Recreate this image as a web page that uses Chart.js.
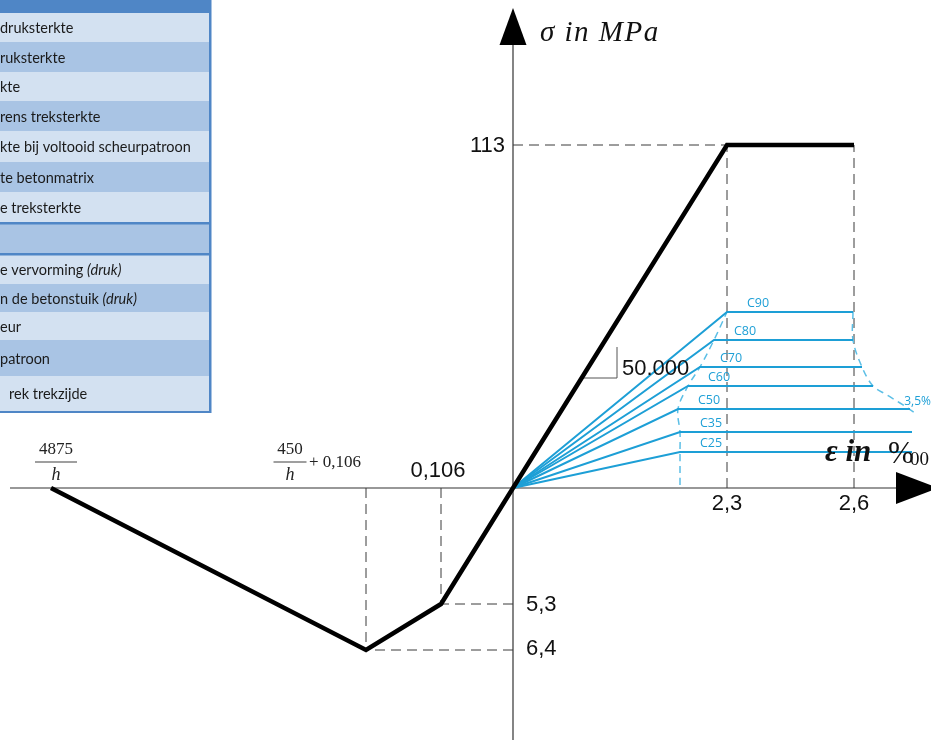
<!DOCTYPE html>
<html><head><meta charset="utf-8">
<script src="https://cdn.jsdelivr.net/npm/chart.js@4/dist/chart.umd.min.js"></script>
<style>html,body{margin:0;padding:0;background:#fff;overflow:hidden}#wrap{width:931px;height:740px;position:relative}</style>
</head><body><div id="wrap"><canvas id="c" width="931" height="740"></canvas></div>
<script>
// Schematic diagram (axes of the reference are not to scale): values in diagram units
const mainStrain = [-4.62, -1.47, -0.72, 0, 2.14, 3.41];
const mainStress = [0, -1.62, -1.16, 0, 3.43, 3.43];

const classes = ['C25','C35','C50','C60','C70','C80','C90'];
const classKinkStrain = [1.67, 1.67, 1.65, 1.75, 1.87, 2.01, 2.14];
const classStress = [0.36, 0.56, 0.79, 1.02, 1.21, 1.48, 1.76];
const classEndStrain = [3.99, 3.99, 3.97, 3.60, 3.49, 3.40, 3.40];

const leftEnvStrain = [1.67, 1.67, 1.67, 1.65, 1.75, 1.87, 2.01, 2.14];
const leftEnvStress = [0.03, 0.36, 0.56, 0.79, 1.02, 1.21, 1.48, 1.76];
const rightEnvStrain = [3.40, 3.40, 3.49, 3.60, 3.74, 3.87, 4.02];
const rightEnvStress = [1.76, 1.48, 1.21, 1.02, 0.93, 0.85, 0.75];
const rightEnvLabel = '3,5%';

const slopeStrain = [0.70, 1.04, 1.04];
const slopeStress = [1.10, 1.10, 1.41];
const slopeLabel = '50.000';

const yTickLabels = ['113', '5,3', '6,4'];
const yTickValues = [3.43, -1.16, -1.62];
const xTickLabels = ['2,3', '2,6'];
const xTickValues = [2.14, 3.41];
const xNegLabel = '0,106';
const xNegValue = -0.72;

const tableRows = [
  ['light', 'druksterkte', ''],
  ['mid', 'ruksterkte', ''],
  ['light', 'kte', ''],
  ['mid', 'rens treksterkte', ''],
  ['light', 'kte bij voltooid scheurpatroon', ''],
  ['mid', 'te betonmatrix', ''],
  ['light', 'e treksterkte', ''],
  ['mid', '', ''],
  ['light', 'e vervorming ', '(druk)'],
  ['mid', 'n de betonstuik ', '(druk)'],
  ['light', 'eur', ''],
  ['mid', 'patroon', ''],
  ['light', ' rek trekzijde', '']
];
const rowEdges = [13, 42, 72, 101, 131, 162, 192, 222, 255, 284, 312, 340, 376, 411];

const BLUE = '#1d9fd6';
const BLUE_LIGHT = '#5cbfe6';
const GUIDE = '#3a3a3a';

function pts(xs, ys) { return xs.map((x, i) => ({x: x, y: ys[i]})); }

const datasets = [];
datasets.push({data: pts(mainStrain, mainStress), showLine: true, borderColor: '#000', borderWidth: 4.5,
  borderJoinStyle: 'miter', pointRadius: 0, fill: false, order: 0});
const guideIdx = [1, 2, 4, 5];
guideIdx.forEach(i => {
  const x = mainStrain[i], y = mainStress[i];
  datasets.push({data: [{x: x, y: 0}, {x: x, y: y}], showLine: true, borderColor: GUIDE, borderWidth: 1,
    borderDash: [10, 6], pointRadius: 0, order: 5});
  if (i !== 5) datasets.push({data: [{x: 0, y: y}, {x: x, y: y}], showLine: true, borderColor: GUIDE, borderWidth: 1,
    borderDash: [10, 6], pointRadius: 0, order: 5});
});
classes.forEach((c, i) => {
  datasets.push({data: [{x: 0, y: 0}, {x: classKinkStrain[i], y: classStress[i]}, {x: classEndStrain[i], y: classStress[i]}],
    showLine: true, borderColor: BLUE, borderWidth: 2, pointRadius: 0, order: 3});
});
datasets.push({data: pts(leftEnvStrain, leftEnvStress), showLine: true, borderColor: BLUE_LIGHT, borderWidth: 1.5,
  borderDash: [7, 5], tension: 0.35, pointRadius: 0, order: 4});
datasets.push({data: pts(rightEnvStrain, rightEnvStress), showLine: true, borderColor: BLUE_LIGHT, borderWidth: 1.5,
  borderDash: [7, 5], tension: 0.35, pointRadius: 0, order: 4});
datasets.push({data: pts(slopeStrain, slopeStress), showLine: true, borderColor: '#555', borderWidth: 1,
  pointRadius: 0, order: 6});

function frac(ctx, num, cx, yBar, w) {
  ctx.font = '17px "Liberation Serif", serif';
  ctx.textAlign = 'center'; ctx.textBaseline = 'alphabetic'; ctx.fillStyle = '#222';
  ctx.fillText(num, cx, yBar - 8);
  ctx.fillStyle = '#777'; ctx.fillRect(cx - w / 2, yBar - 0.7, w, 1.4);
  ctx.fillStyle = '#222'; ctx.font = 'italic 18px "Liberation Serif", serif';
  ctx.fillText('h', cx, yBar + 18);
}

const diagram = {
  id: 'diagram',
  beforeDatasetsDraw(chart) {
    const ctx = chart.ctx, xs = chart.scales.x, ys = chart.scales.y;
    const x0 = xs.getPixelForValue(0), y0 = ys.getPixelForValue(0);
    ctx.save();
    ctx.strokeStyle = '#333'; ctx.lineWidth = 1.2;
    ctx.beginPath(); ctx.moveTo(10, y0); ctx.lineTo(897, y0); ctx.stroke();
    ctx.beginPath(); ctx.moveTo(x0, 740); ctx.lineTo(x0, 44); ctx.stroke();
    ctx.restore();
  },
  afterDatasetsDraw(chart) {
    const ctx = chart.ctx, xs = chart.scales.x, ys = chart.scales.y;
    const X = v => xs.getPixelForValue(v), Y = v => ys.getPixelForValue(v);
    const x0 = X(0), y0 = Y(0);
    ctx.save();
    ctx.fillStyle = '#000';
    ctx.beginPath(); ctx.moveTo(x0, 8); ctx.lineTo(x0 - 13.5, 45); ctx.lineTo(x0 + 13.5, 45); ctx.closePath(); ctx.fill();
    ctx.beginPath(); ctx.moveTo(896, y0 - 16); ctx.lineTo(938, y0); ctx.lineTo(896, y0 + 16); ctx.closePath(); ctx.fill();

    ctx.fillStyle = '#111'; ctx.textBaseline = 'alphabetic'; ctx.textAlign = 'left';
    ctx.font = 'italic 29px "Liberation Serif", serif';
    ctx.letterSpacing = '1.5px';
    ctx.fillText('σ in MPa', 540, 41);
    ctx.letterSpacing = '0px';
    ctx.font = 'bold italic 31px "Liberation Serif", serif';
    ctx.fillText('ε in', 825, 461);
    ctx.font = '31px "Liberation Serif", serif';
    ctx.fillText('%', 888, 463);
    ctx.font = '19px "Liberation Serif", serif';
    ctx.fillText('00', 910, 465);

    ctx.font = '22px "Liberation Sans", Arial, sans-serif';
    ctx.textBaseline = 'middle';
    ctx.textAlign = 'right';
    ctx.fillText(yTickLabels[0], x0 - 8, Y(yTickValues[0]) + 1);
    ctx.textAlign = 'left';
    ctx.fillText(yTickLabels[1], x0 + 13, Y(yTickValues[1]) + 1);
    ctx.fillText(yTickLabels[2], x0 + 13, Y(yTickValues[2]) - 1);
    ctx.textAlign = 'center';
    xTickLabels.forEach((t, i) => ctx.fillText(t, X(xTickValues[i]), y0 + 16));
    ctx.fillText(xNegLabel, X(xNegValue) - 3, y0 - 17);
    ctx.textAlign = 'left';
    ctx.fillText(slopeLabel, X(slopeStrain[1]) + 5, Y(slopeStress[0]) - 9);

    frac(ctx, '4875', X(mainStrain[0]) + 5, y0 - 26, 42);
    frac(ctx, '450', X(mainStrain[1]) - 76, y0 - 26, 33);
    ctx.font = '17px "Liberation Serif", serif'; ctx.textAlign = 'left';
    ctx.fillText('+ 0,106', X(mainStrain[1]) - 57, y0 - 21);

    ctx.fillStyle = BLUE; ctx.font = '500 12.5px "Open Sans", sans-serif';
    ctx.textAlign = 'center'; ctx.textBaseline = 'middle';
    classes.forEach((c, i) => ctx.fillText(c, X(classKinkStrain[i]) + 31, Y(classStress[i]) - 9));
    ctx.textAlign = 'right';
    ctx.font = '500 12px "Open Sans", sans-serif';
    ctx.fillText(rightEnvLabel, 931, Y(rightEnvStress[rightEnvStress.length - 1]) - 11);
    ctx.restore();

    ctx.save();
    const W = 209;
    ctx.fillStyle = '#4f86c6'; ctx.fillRect(0, 0, W + 2, rowEdges[0]);
    tableRows.forEach((r, i) => {
      const top = rowEdges[i], bot = rowEdges[i + 1];
      ctx.fillStyle = r[0] === 'light' ? '#d3e1f1' : '#a9c4e4';
      ctx.fillRect(0, top, W, bot - top);
      ctx.fillStyle = '#1a1a1a'; ctx.textBaseline = 'middle'; ctx.textAlign = 'left';
      ctx.font = '14.5px Lato, sans-serif';
      const cy = (top + bot) / 2 + 1;
      const tx = r[1].startsWith(' ') ? 9 : 0;
      ctx.fillText(r[1].trim(), tx, cy);
      if (r[2]) {
        const w = ctx.measureText(r[1].trim() + ' ').width;
        ctx.font = 'italic 14.5px Lato, sans-serif';
        ctx.fillText(r[2], tx + w, cy);
      }
    });
    ctx.fillStyle = '#4f86c6';
    ctx.fillRect(W, 0, 2.5, rowEdges[rowEdges.length - 1] + 2);
    ctx.fillRect(0, rowEdges[rowEdges.length - 1], W + 2, 2);
    ctx.fillRect(0, 222, W, 2.5);
    ctx.fillRect(0, 253, W, 2.5);
    ctx.restore();
  }
};

new Chart(document.getElementById('c').getContext('2d'), {
  type: 'scatter',
  data: {datasets: datasets},
  options: {
    responsive: false, animation: false,
    layout: {padding: 0},
    plugins: {legend: {display: false}, tooltip: {enabled: false}, title: {display: false}},
    scales: {
      x: {type: 'linear', min: -5.13, max: 4.18, display: false},
      y: {type: 'linear', min: -2.52, max: 4.88, display: false}
    },
    elements: {point: {radius: 0}}
  },
  plugins: [diagram]
});
</script></body></html>
